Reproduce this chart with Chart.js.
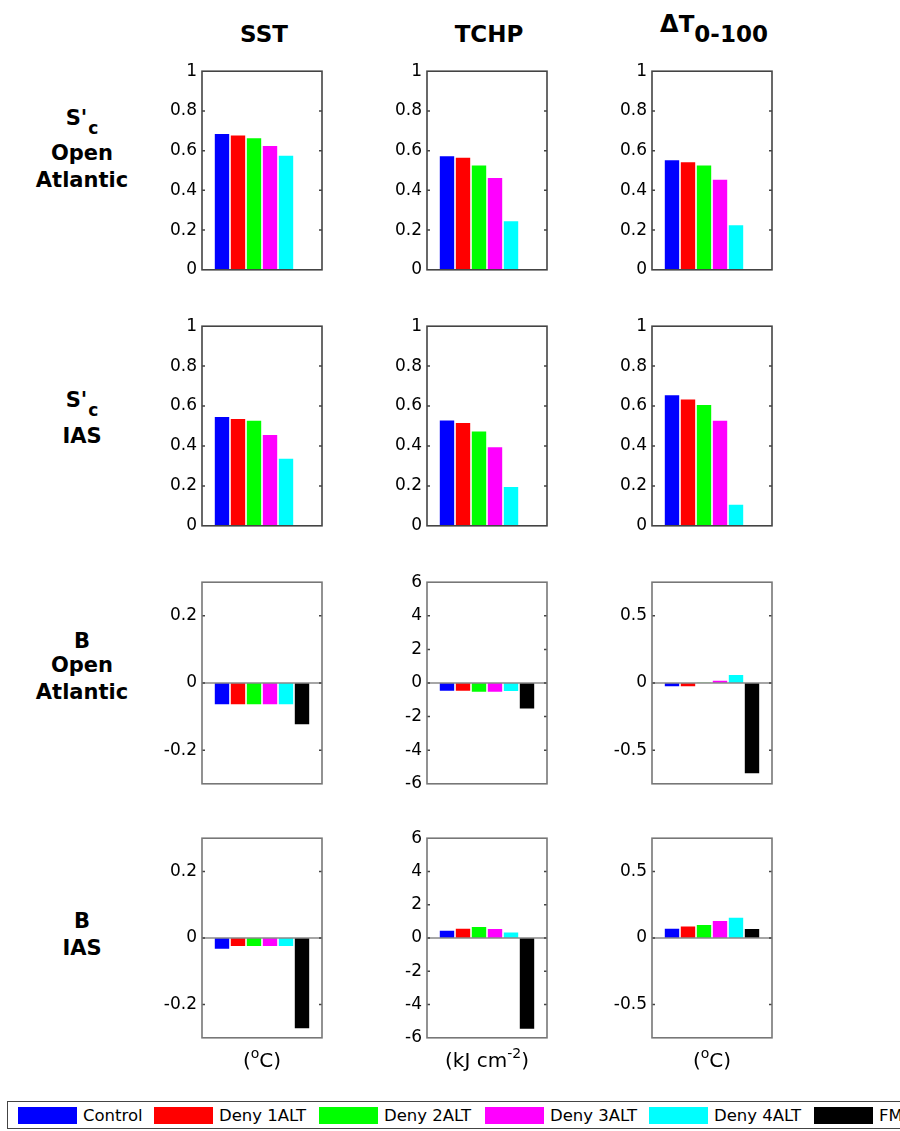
<!DOCTYPE html>
<html>
<head>
<meta charset="utf-8">
<script src="https://cdn.jsdelivr.net/npm/chart.js@4.4.1/dist/chart.umd.min.js"></script>
<style>
html,body{margin:0;padding:0;background:#fff;}
body{width:900px;height:1131px;overflow:hidden;position:relative;font-family:'DejaVu Sans',sans-serif;color:#000;}
canvas.panel{position:absolute;}
.title{position:absolute;font-weight:bold;font-size:23px;line-height:28px;text-align:center;width:180px;white-space:nowrap;}
.title .delta{font-size:24px;}
.title .tsub{position:relative;top:10px;}
.rowlab{position:absolute;font-weight:bold;font-size:21px;line-height:26px;text-align:center;width:140px;left:12px;white-space:nowrap;}
.rowlab .sub{font-size:17px;position:relative;top:9px;margin-left:1px;}
.unit{position:absolute;font-size:20px;line-height:24px;text-align:center;width:180px;white-space:nowrap;}
.unit sup{font-size:14px;vertical-align:baseline;position:relative;top:-9px;}
#legend{position:absolute;left:7px;top:1101px;width:1000px;height:26px;border:1.6px solid #444;display:flex;align-items:center;padding-left:10px;box-sizing:content-box;}
#legend .sw{width:59px;height:17px;margin-right:6px;flex:none;}
#legend .lt{font-size:16.5px;white-space:nowrap;flex:none;}
</style>
</head>
<body>
<script>
// ---------------- data ----------------
const seriesNames = ['Control', 'Deny 1ALT', 'Deny 2ALT', 'Deny 3ALT', 'Deny 4ALT', 'FM'];
const seriesColors = ['#0000ff', '#ff0000', '#00ff00', '#ff00ff', '#00ffff', '#000000'];

const columnTitles = ['SST', 'TCHP', 'ΔT'];
const columnTitleSubs = ['', '', '0-100'];
const unitLabels = ['(<sup>o</sup>C)', '(kJ cm<sup>-2</sup>)', '(<sup>o</sup>C)'];

// row 1: S'c Open Atlantic
const scOpenSST  = [0.684, 0.676, 0.663, 0.623, 0.574, null];
const scOpenTCHP = [0.572, 0.564, 0.525, 0.462, 0.245, null];
const scOpenDT   = [0.551, 0.541, 0.525, 0.454, 0.224, null];
// row 2: S'c IAS
const scIasSST  = [0.545, 0.535, 0.526, 0.455, 0.336, null];
const scIasTCHP = [0.527, 0.515, 0.472, 0.393, 0.194, null];
const scIasDT   = [0.654, 0.633, 0.605, 0.526, 0.105, null];
// row 3: B Open Atlantic
const bOpenSST  = [-0.063, -0.063, -0.063, -0.063, -0.063, -0.123];
const bOpenTCHP = [-0.46, -0.46, -0.52, -0.52, -0.48, -1.52];
const bOpenDT   = [-0.024, -0.024, 0.002, 0.017, 0.060, -0.672];
// row 4: B IAS
const bIasSST  = [-0.032, -0.024, -0.024, -0.024, -0.024, -0.271];
const bIasTCHP = [0.43, 0.56, 0.66, 0.54, 0.33, -5.45];
const bIasDT   = [0.070, 0.087, 0.097, 0.128, 0.152, 0.068];

// tick labels and axis ranges
const ticksSc    = [0, 0.2, 0.4, 0.6, 0.8, 1];
const ticksBSST  = [-0.2, 0, 0.2];
const ticksBTCHP = [-6, -4, -2, 0, 2, 4, 6];
const ticksBDT   = [-0.5, 0, 0.5];
const rangeSc    = [0, 1];
const rangeBSST  = [-0.3, 0.3];
const rangeBTCHP = [-6, 6];
const rangeBDT   = [-0.75, 0.75];

// ---------------- layout ----------------
const colLeft = [202, 427, 652];
const plotW = 120;
const rowTop = [68, 323, 579, 835];
const rowH = [205, 206, 208, 206];
const AXW = 50, PADT = 12, PADB = 12, PADR = 10;
const legendTextBox = [71, 100, 101, 99, 100, 40];

const rowLabels = [
  [{html: "S'<span class='sub'>c</span>", top: 105}, {html: 'Open', top: 140}, {html: 'Atlantic', top: 167}],
  [{html: "S'<span class='sub'>c</span>", top: 387}, {html: 'IAS', top: 423}],
  [{html: 'B', top: 628}, {html: 'Open', top: 652}, {html: 'Atlantic', top: 679}],
  [{html: 'B', top: 908}, {html: 'IAS', top: 935}]
];

const panels = [
  {r:0,c:0,v:scOpenSST,t:ticksSc,rg:rangeSc},{r:0,c:1,v:scOpenTCHP,t:ticksSc,rg:rangeSc},{r:0,c:2,v:scOpenDT,t:ticksSc,rg:rangeSc},
  {r:1,c:0,v:scIasSST,t:ticksSc,rg:rangeSc},{r:1,c:1,v:scIasTCHP,t:ticksSc,rg:rangeSc},{r:1,c:2,v:scIasDT,t:ticksSc,rg:rangeSc},
  {r:2,c:0,v:bOpenSST,t:ticksBSST,rg:rangeBSST},{r:2,c:1,v:bOpenTCHP,t:ticksBTCHP,rg:rangeBTCHP},{r:2,c:2,v:bOpenDT,t:ticksBDT,rg:rangeBDT},
  {r:3,c:0,v:bIasSST,t:ticksBSST,rg:rangeBSST},{r:3,c:1,v:bIasTCHP,t:ticksBTCHP,rg:rangeBTCHP},{r:3,c:2,v:bIasDT,t:ticksBDT,rg:rangeBDT}
];

const boxPlugin = {
  id: 'matlabBox',
  afterDraw(chart) {
    const a = chart.chartArea, y = chart.scales.y, ctx = chart.ctx;
    ctx.save();
    const y0 = y.getPixelForValue(0);
    if (y0 > a.top + 1 && y0 < a.bottom - 1) {
      ctx.strokeStyle = '#888';
      ctx.lineWidth = 1.5;
      ctx.beginPath(); ctx.moveTo(a.left, y0); ctx.lineTo(a.right, y0); ctx.stroke();
    }
    ctx.strokeStyle = '#444';
    ctx.lineWidth = 1.5;
    y.ticks.forEach(tk => {
      if (tk.value === y.min || tk.value === y.max) return;
      const p = y.getPixelForValue(tk.value);
      ctx.beginPath();
      ctx.moveTo(a.left, p); ctx.lineTo(a.left + 3, p);
      ctx.moveTo(a.right, p); ctx.lineTo(a.right - 3, p);
      ctx.stroke();
    });
    ctx.strokeStyle = chart.options.boxColor || '#555';
    ctx.lineWidth = 1.6;
    ctx.strokeRect(a.left, a.top, a.right - a.left, a.bottom - a.top);
    ctx.restore();
  }
};

panels.forEach(p => {
  const cv = document.createElement('canvas');
  cv.className = 'panel';
  const w = AXW + plotW + PADR, h = PADT + rowH[p.r] + PADB;
  cv.width = w; cv.height = h;
  cv.style.width = w + 'px'; cv.style.height = h + 'px';
  cv.style.left = (colLeft[p.c] - AXW) + 'px';
  cv.style.top = (rowTop[p.r] - PADT) + 'px';
  document.body.appendChild(cv);
  new Chart(cv, {
    type: 'bar',
    data: {
      labels: [''],
      datasets: seriesNames.map((n, i) => ({
        label: n,
        data: [p.v[i]],
        backgroundColor: seriesColors[i],
        borderWidth: 0,
        categoryPercentage: 0.8,
        barPercentage: 0.9
      }))
    },
    options: {
      responsive: false,
      animation: false,
      devicePixelRatio: 1,
      boxColor: p.r < 2 ? '#444' : '#777',
      layout: {padding: {top: PADT, bottom: PADB, left: 0, right: PADR}},
      plugins: {legend: {display: false}, tooltip: {enabled: false}},
      scales: {
        x: {display: false, offset: true},
        y: {
          min: p.rg[0], max: p.rg[1],
          afterBuildTicks: s => { s.ticks = p.t.map(v => ({value: v})); },
          afterFit: s => { s.width = AXW; },
          grid: {display: false, drawTicks: false},
          border: {display: false},
          ticks: {padding: 5, color: '#000', autoSkip: false,
                  font: {family: 'DejaVu Sans', size: 17},
                  callback: v => String(v)}
        }
      }
    },
    plugins: [boxPlugin]
  });
});

// column titles
columnTitles.forEach((t, c) => {
  const d = document.createElement('div');
  d.className = 'title';
  const center = colLeft[c] + plotW / 2 + 2;
  d.style.left = (center - 90) + 'px';
  d.style.top = '20px';
  if (columnTitleSubs[c]) {
    d.innerHTML = '<span class="delta">' + t.charAt(0) + '</span>' + t.slice(1) + '<span class="tsub">' + columnTitleSubs[c] + '</span>';
    d.style.top = '10px';
  } else {
    d.textContent = t;
  }
  document.body.appendChild(d);
});

// unit labels
unitLabels.forEach((u, c) => {
  const d = document.createElement('div');
  d.className = 'unit';
  d.style.left = (colLeft[c] + plotW / 2 - 90) + 'px';
  d.style.top = '1048px';
  d.innerHTML = u;
  document.body.appendChild(d);
});

// row labels
rowLabels.forEach(lines => lines.forEach(l => {
  const d = document.createElement('div');
  d.className = 'rowlab';
  d.style.top = l.top + 'px';
  d.innerHTML = l.html;
  document.body.appendChild(d);
}));

// legend
const lg = document.createElement('div');
lg.id = 'legend';
seriesNames.forEach((n, i) => {
  const sw = document.createElement('span');
  sw.className = 'sw';
  sw.style.background = seriesColors[i];
  const tx = document.createElement('span');
  tx.className = 'lt';
  tx.style.width = legendTextBox[i] + 'px';
  tx.textContent = n;
  lg.appendChild(sw); lg.appendChild(tx);
});
document.body.appendChild(lg);
</script>
</body>
</html>
